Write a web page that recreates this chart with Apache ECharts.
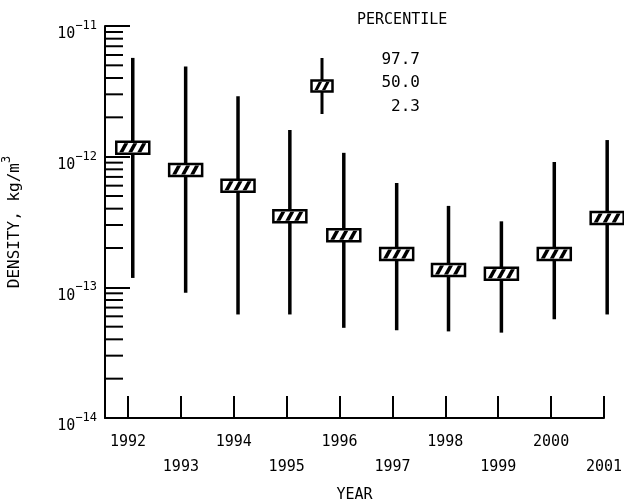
<!DOCTYPE html>
<html>
<head>
<meta charset="utf-8">
<script src="https://cdn.jsdelivr.net/npm/echarts@6/dist/echarts.min.js"></script>
<style>
  html, body { margin: 0; padding: 0; background: #fff; }
  #chart { width: 624px; height: 504px; }
</style>
</head>
<body>
<div id="chart"></div>
<script>
// years on the axis, and where each bar sits
const years = [1992, 1993, 1994, 1995, 1996, 1997, 1998, 1999, 2000, 2001];
const barPos = [1992.09, 1993.09, 1994.08, 1995.06, 1996.08, 1997.08, 1998.06, 1999.06, 2000.06, 2001.06];

// density percentiles, kg/m^3
const p977 = [5.7e-12, 4.9e-12, 2.9e-12, 1.6e-12, 1.07e-12, 6.3e-13, 4.2e-13, 3.2e-13, 9.1e-13, 1.34e-12];
const p500 = [1.17e-12, 7.9e-13, 6.0e-13, 3.5e-13, 2.5e-13, 1.8e-13, 1.36e-13, 1.27e-13, 1.8e-13, 3.4e-13];
const p023 = [1.18e-13, 9.1e-14, 6.2e-14, 6.2e-14, 4.9e-14, 4.7e-14, 4.6e-14, 4.5e-14, 5.7e-14, 6.2e-14];

const yMin = 1e-14;
const yMax = 1e-11;
const xMin = 1991.565;
const xMax = 2001;

const FONT = 'DejaVu Sans Mono';

// minor log ticks 2..9 in each decade
const minorTicks = [];
for (let d = -14; d < -11; d++) {
  for (let k = 2; k <= 9; k++) minorTicks.push([xMin, k * Math.pow(10, d)]);
}

const chart = echarts.init(document.getElementById('chart'));

function hatchBox(cx, cy, w, h, n) {
  const l = cx - w / 2;
  const t = cy - h / 2;
  const kids = [
    { type: 'rect', shape: { x: l, y: t, width: w, height: h },
      style: { fill: '#fff', stroke: '#000', lineWidth: 2.5 } },
  ];
  const step = (w - 6) / n;
  for (let i = 0; i < n; i++) {
    const bx = l + 3 + i * step;
    kids.push({
      type: 'polygon',
      shape: { points: [[bx, t + h - 1.5], [bx + step * 0.45, t + h - 1.5], [bx + step, t + 1.5], [bx + step * 0.55, t + 1.5]] },
      style: { fill: '#000' },
    });
  }
  return kids;
}

function renderBar(params, api) {
  const x = api.value(0);
  const top = api.coord([x, api.value(1)]);
  const mid = api.coord([x, api.value(2)]);
  const bot = api.coord([x, api.value(3)]);
  const children = [
    { type: 'line', shape: { x1: top[0], y1: top[1], x2: bot[0], y2: bot[1] },
      style: { stroke: '#000', lineWidth: 3.5 } },
  ].concat(hatchBox(mid[0], mid[1], 33, 12, 3));
  return { type: 'group', children };
}

function renderMinor(params, api) {
  const p = api.coord([api.value(0), api.value(1)]);
  return {
    type: 'line',
    shape: { x1: p[0], y1: p[1], x2: p[0] + 18, y2: p[1] },
    style: { stroke: '#000', lineWidth: 2 },
  };
}

const option = {
  backgroundColor: '#fff',
  animation: false,
  grid: { left: 105, right: 20, top: 26, bottom: 86, containLabel: false, outerBoundsMode: 'none' },
  xAxis: {
    type: 'value',
    min: xMin,
    max: xMax,
    name: 'YEAR',
    nameLocation: 'middle',
    nameGap: 70,
    nameTextStyle: { fontFamily: FONT, fontSize: 15, color: '#000' },
    splitLine: { show: false },
    axisLine: { show: true, onZero: false, lineStyle: { color: '#000', width: 2 } },
    axisTick: { show: true, inside: true, length: 22, customValues: years, lineStyle: { color: '#000', width: 2 } },
    axisLabel: {
      customValues: years,
      margin: 12,
      color: '#000',
      fontFamily: FONT,
      fontSize: 15,
      lineHeight: 25,
      formatter: (v) => (Math.round(v) % 2 === 0 ? String(Math.round(v)) : '\n' + Math.round(v)),
    },
  },
  yAxis: {
    type: 'log',
    logBase: 10,
    min: yMin,
    max: yMax,
    name: '{n|DENSITY, kg/m}{s|3}',
    nameLocation: 'middle',
    nameGap: 82,
    nameTextStyle: {
      color: '#000',
      rich: {
        n: { fontFamily: FONT, fontSize: 16, color: '#000', verticalAlign: 'bottom', lineHeight: 22 },
        s: { fontFamily: FONT, fontSize: 12, color: '#000', verticalAlign: 'top', lineHeight: 22 },
      },
    },
    splitLine: { show: false },
    minorTick: { show: false },
    axisLine: { show: true, lineStyle: { color: '#000', width: 2 } },
    axisTick: { show: true, inside: true, length: 25, lineStyle: { color: '#000', width: 2 } },
    axisLabel: {
      margin: 8,
      padding: [10, 0, 0, 0],
      formatter: (v) => '{b|10}{s|\u2212' + Math.abs(Math.round(Math.log10(v))) + '}',
      rich: {
        b: { fontFamily: FONT, fontSize: 15, color: '#000', verticalAlign: 'bottom', lineHeight: 22 },
        s: { fontFamily: FONT, fontSize: 12, color: '#000', verticalAlign: 'top', lineHeight: 22 },
      },
    },
  },
  series: [
    {
      type: 'custom',
      name: 'minor ticks',
      renderItem: renderMinor,
      data: minorTicks,
      silent: true,
      z: 3,
    },
    {
      type: 'custom',
      name: 'density',
      renderItem: renderBar,
      data: barPos.map((x, i) => [x, p977[i], p500[i], p023[i]]),
      z: 5,
    },
  ],
  graphic: [
    { type: 'text', left: 357, top: 13, style: { text: 'PERCENTILE', font: '15px ' + FONT, fill: '#000' } },
    { type: 'text', right: 204, top: 52, style: { text: '97.7', font: '16px ' + FONT, fill: '#000', textAlign: 'right' } },
    { type: 'text', right: 204, top: 75, style: { text: '50.0', font: '16px ' + FONT, fill: '#000', textAlign: 'right' } },
    { type: 'text', right: 204, top: 99, style: { text: '2.3', font: '16px ' + FONT, fill: '#000', textAlign: 'right' } },
    {
      type: 'group',
      children: [
        { type: 'line', shape: { x1: 322, y1: 58, x2: 322, y2: 114 }, style: { stroke: '#000', lineWidth: 3 } },
      ].concat(hatchBox(322, 86, 21, 11, 2)),
    },
  ],
};

chart.setOption(option);
</script>
</body>
</html>
